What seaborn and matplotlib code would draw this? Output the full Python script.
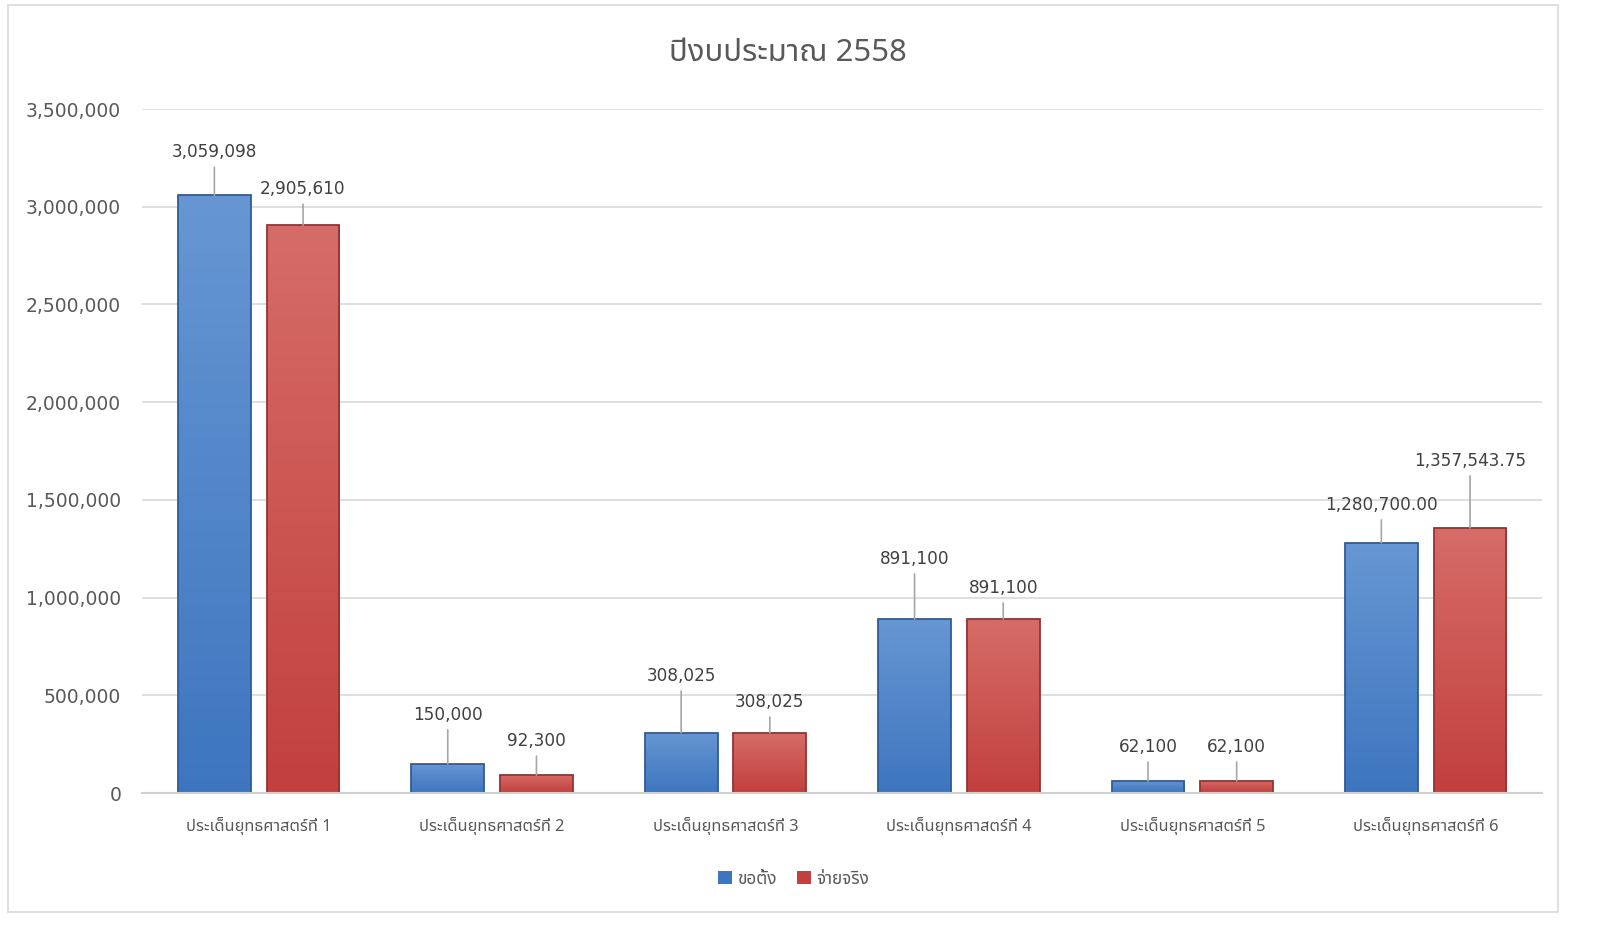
import numpy as np
import pandas as pd
import seaborn as sns
import matplotlib
matplotlib.use("Agg")
import matplotlib.pyplot as plt
from matplotlib import font_manager as fm
from matplotlib.ft2font import FT2Font
from matplotlib.patches import Rectangle
from matplotlib.colors import to_rgb

# ---------------- data ----------------
categories = ["ประเด็นยุทธศาสตร์ที่ 1", "ประเด็นยุทธศาสตร์ที่ 2", "ประเด็นยุทธศาสตร์ที่ 3",
              "ประเด็นยุทธศาสตร์ที่ 4", "ประเด็นยุทธศาสตร์ที่ 5", "ประเด็นยุทธศาสตร์ที่ 6"]
series_names = ["ขอตั้ง", "จ่ายจริง"]
requested = [3059098, 150000, 308025, 891100, 62100, 1280700.00]
actual = [2905610, 92300, 308025, 891100, 62100, 1357543.75]
requested_labels = ["3,059,098", "150,000", "308,025", "891,100", "62,100", "1,280,700.00"]
actual_labels = ["2,905,610", "92,300", "308,025", "891,100", "62,100", "1,357,543.75"]
title = "ปีงบประมาณ 2558"
yticks = [0, 500000, 1000000, 1500000, 2000000, 2500000, 3000000, 3500000]

# label offsets above bar tops (pixels) - styling only
req_offsets = [43, 49, 57, 60, 34, 38]
act_offsets = [36, 34, 31, 31, 34, 67]

# ---------------- fonts ----------------
def find_thai_font():
    preferred = ["Noto Sans Thai", "Noto Sans Thai UI", "Tahoma", "Leelawadee UI", "Sarabun",
                 "Loma", "Garuda", "Umpush", "Kinnari", "Norasi", "Sawasdee", "Waree", "Laksaman"]
    found = []
    for f in fm.fontManager.ttflist:
        try:
            if 0x0E1B in FT2Font(f.fname).get_charmap():
                found.append(f.name)
        except Exception:
            pass
    for p in preferred:
        if p in found:
            return p
    return found[0] if found else None

thai_font = find_thai_font()
sns.set_theme(style="white")
fams = ([thai_font] if thai_font else []) + ["DejaVu Sans"]
plt.rcParams["font.family"] = fams

text_color = "#595959"
blue = "#4A7EC4"
red = "#CB4E4B"
grad = {
    0: ("#6796D3", "#3D76BF", "#2E5C99"),
    1: ("#D66C68", "#C2403D", "#953331"),
}

df = pd.DataFrame({
    "cat": categories * 2,
    "series": [series_names[0]] * len(categories) + [series_names[1]] * len(categories),
    "value": requested + actual,
})

fig = plt.figure(figsize=(16, 9.32), dpi=100)
fig.patch.set_facecolor("white")
ax = fig.add_axes([0.08875, 0.149, 0.964 - 0.08875, 0.883 - 0.149])

sns.barplot(data=df, x="cat", y="value", hue="series", order=categories,
            hue_order=series_names, palette=[blue, red], width=0.76, gap=0.18,
            saturation=1, linewidth=0, ax=ax, errorbar=None)

ax.set_ylim(0, 3500000)
ax.set_xlim(-0.5, len(categories) - 0.5)

# vertical gradient fill + darker edge for a bevel feel
for i, cont in enumerate(ax.containers):
    top_c, bot_c, edge_c = grad[i]
    t = np.array(to_rgb(top_c))
    b_ = np.array(to_rgb(bot_c))
    g = np.linspace(0, 1, 256)[:, None]
    img = (t[None, :] * (1 - g) + b_[None, :] * g)[:, None, :]
    for bar in cont:
        x0, w, h = bar.get_x(), bar.get_width(), bar.get_height()
        im = ax.imshow(img, extent=(x0, x0 + w, 0, h), origin="upper", aspect="auto",
                       zorder=2, interpolation="bilinear")
        im.set_clip_path(bar)
        bar.set_facecolor("none")
        bar.set_edgecolor(edge_c)
        bar.set_linewidth(1.3)
        bar.set_zorder(3)

ax.set_ylim(0, 3500000)
ax.set_xlim(-0.5, len(categories) - 0.5)
ax.set_yticks(yticks)
ax.set_yticklabels([f"{v:,.0f}" for v in yticks], fontsize=13.5, color=text_color,
                   family=["DejaVu Sans"])
ax.tick_params(axis="x", labelsize=11.8, colors=text_color, length=0, pad=17)
ax.tick_params(axis="y", length=0, pad=15)
ax.set_xlabel("")
ax.set_ylabel("")
ax.yaxis.grid(True, color="#D9D9D9", linewidth=1.2)
ax.set_axisbelow(True)
for s in ["top", "right", "left"]:
    ax.spines[s].set_visible(False)
ax.spines["bottom"].set_color("#D0D0D0")
ax.spines["bottom"].set_linewidth(1.5)
ax.spines["bottom"].set_zorder(4)

# data labels with leader lines
for cont, labels, offs in zip(ax.containers, [requested_labels, actual_labels],
                              [req_offsets, act_offsets]):
    for b, lab, off in zip(cont, labels, offs):
        xc = b.get_x() + b.get_width() / 2
        h = b.get_height()
        ax.annotate(lab, xy=(xc, h), xytext=(0, off), textcoords="offset pixels",
                    ha="center", va="center", fontsize=12.2, color="#404040",
                    family=["DejaVu Sans"], zorder=5,
                    arrowprops=dict(arrowstyle="-", color="#A6A6A6", lw=1.2,
                                    shrinkA=2, shrinkB=0))

fig.text(0.4925, 0.943, title, ha="center", va="center", fontsize=22.4, color=text_color)

handles, labels = ax.get_legend_handles_labels()
for hnd, c in zip(handles, [grad[0][1], grad[1][1]]):
    hnd.set_facecolor(c)
ax.legend(handles, labels, loc="center", bbox_to_anchor=(0.496, 0.057),
          bbox_transform=fig.transFigure, ncol=2, frameon=False, fontsize=12.4,
          handlelength=0.8, handleheight=0.8, handletextpad=0.3, columnspacing=1.2,
          labelcolor=text_color)

# outer chart border
fig.patches.append(Rectangle((8 / 1600, 1 - 912 / 932), (1558 - 8) / 1600, (912 - 5) / 932,
                             transform=fig.transFigure, fill=False, edgecolor="#D9D9D9",
                             linewidth=1.2))

fig.savefig("out.png", dpi=100, facecolor="white")
